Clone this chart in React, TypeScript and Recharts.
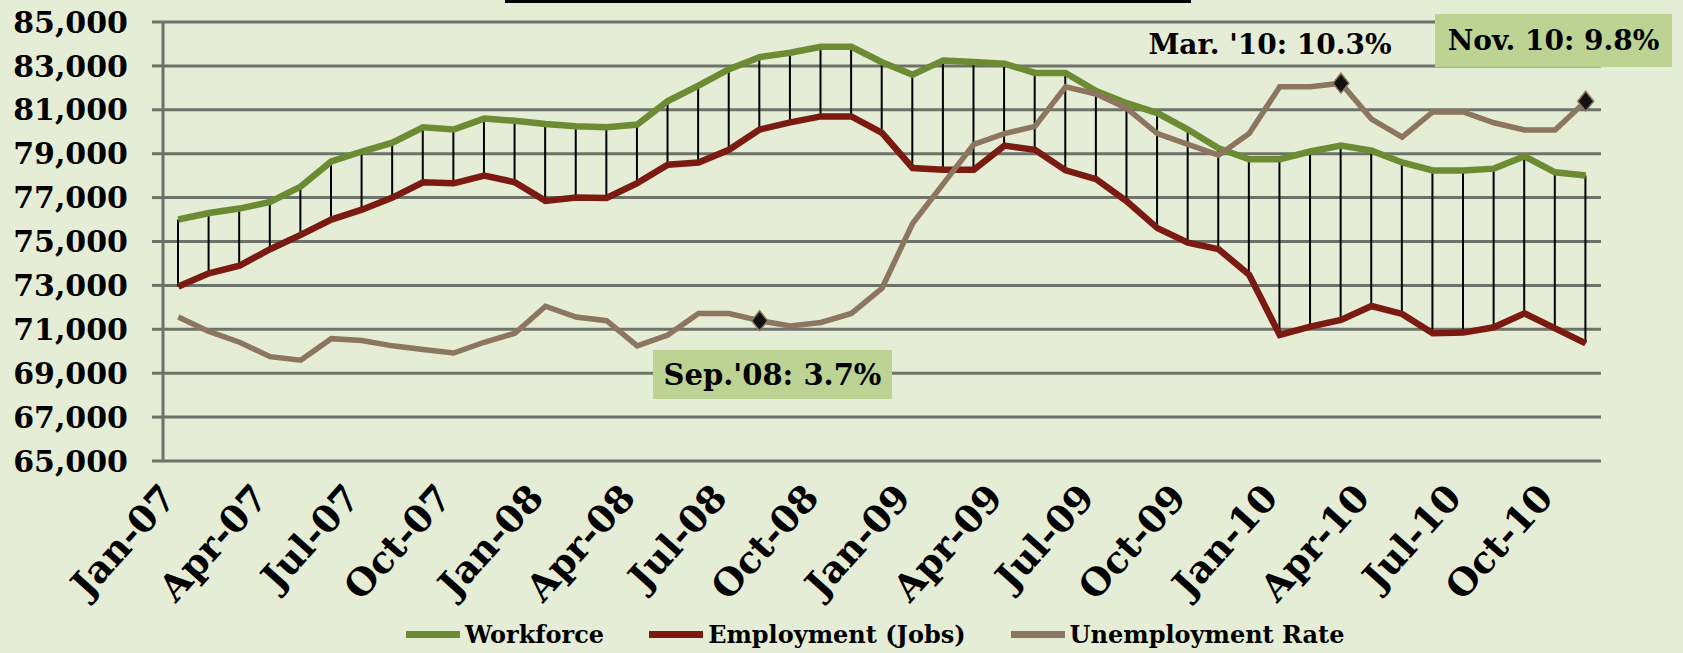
import React from 'react'
import {
  ComposedChart,
  Line,
  Bar,
  XAxis,
  YAxis,
  CartesianGrid,
  Legend,
} from 'recharts'

// Jan-07 .. Nov-10, monthly
const months = [
  'Jan-07', 'Feb-07', 'Mar-07', 'Apr-07', 'May-07', 'Jun-07', 'Jul-07', 'Aug-07', 'Sep-07', 'Oct-07', 'Nov-07', 'Dec-07',
  'Jan-08', 'Feb-08', 'Mar-08', 'Apr-08', 'May-08', 'Jun-08', 'Jul-08', 'Aug-08', 'Sep-08', 'Oct-08', 'Nov-08', 'Dec-08',
  'Jan-09', 'Feb-09', 'Mar-09', 'Apr-09', 'May-09', 'Jun-09', 'Jul-09', 'Aug-09', 'Sep-09', 'Oct-09', 'Nov-09', 'Dec-09',
  'Jan-10', 'Feb-10', 'Mar-10', 'Apr-10', 'May-10', 'Jun-10', 'Jul-10', 'Aug-10', 'Sep-10', 'Oct-10', 'Nov-10',
]

const workforce = [
  76000, 76300, 76500, 76800, 77500, 78650, 79100, 79500, 80200, 80100, 80600, 80500,
  80350, 80250, 80200, 80330, 81400, 82100, 82850, 83400, 83600, 83870, 83870, 83170,
  82600, 83250, 83180, 83100, 82680, 82680, 81850, 81300, 80850, 80100, 79250, 78750,
  78750, 79100, 79370, 79140, 78600, 78240, 78240, 78320, 78880, 78150, 78010,
]

const employment = [
  72950, 73550, 73900, 74650, 75300, 76000, 76450, 77000, 77700, 77650, 78000, 77700,
  76850, 77000, 76980, 77660, 78500, 78600, 79180, 80100, 80430, 80700, 80700, 79950,
  78350, 78270, 78270, 79370, 79180, 78240, 77840, 76830, 75610, 74950, 74650, 73480,
  70740, 71120, 71430, 72060, 71700, 70820, 70850, 71090, 71730, 71040, 70360,
]

// percent, drawn against a hidden secondary scale
const unemploymentRate = [
  3.8, 3.4, 3.1, 2.7, 2.6, 3.2, 3.15, 3.0, 2.9, 2.8, 3.1, 3.35,
  4.1, 3.8, 3.7, 3.0, 3.3, 3.9, 3.9, 3.7, 3.55, 3.65, 3.9, 4.6,
  6.4, 7.5, 8.6, 8.9, 9.1, 10.2, 10.0, 9.6, 8.9, 8.6, 8.3, 8.9,
  10.2, 10.2, 10.3, 9.3, 8.8, 9.5, 9.5, 9.2, 9.0, 9.0, 9.8,
]

const markedMonths = ['Aug-08', 'Mar-10', 'Nov-10']

const yTicks = [65000, 67000, 69000, 71000, 73000, 75000, 77000, 79000, 81000, 83000, 85000]

const data = months.map((m, i) => ({
  month: m,
  workforce: workforce[i],
  employment: employment[i],
  rate: unemploymentRate[i],
  span: [employment[i], workforce[i]],
}))

const GREEN = '#6b8c33'
const RED = '#7a1a10'
const TAN = '#8c7660'
const GRID = '#6e7369'
const BG = '#e5edd7'
const BOX = '#bdd394'
const FONT = '"DejaVu Serif", serif'

const legendItems = [
  { name: 'Workforce', color: GREEN },
  { name: 'Employment (Jobs)', color: RED },
  { name: 'Unemployment Rate', color: TAN },
]

const MonthTick = (props: any) => {
  const { x, y, payload } = props
  const ty = y + 38
  return (
    <text
      x={x}
      y={ty}
      transform={`rotate(-48 ${x} ${ty})`}
      textAnchor="end"
      fontFamily={FONT}
      fontWeight="bold"
      fontSize={37}
      fill="#000"
    >
      {payload.value}
    </text>
  )
}

const RateDot = (props: any) => {
  const { cx, cy, index, payload } = props
  if (!markedMonths.includes(payload.month)) return <g key={`d${index}`} />
  const r = 10
  return (
    <path
      key={`d${index}`}
      d={`M${cx},${cy - r} L${cx + r * 0.8},${cy} L${cx},${cy + r} L${cx - r * 0.8},${cy} Z`}
      fill="#111"
      stroke={TAN}
      strokeWidth={1.5}
    />
  )
}

const renderLegend = () => (
  <div style={{ display: 'flex', alignItems: 'center', marginLeft: 406, gap: 45 }}>
    {legendItems.map((it) => (
      <div key={it.name} style={{ display: 'flex', alignItems: 'center' }}>
        <div style={{ width: 54, height: 7, background: it.color, marginRight: 5 }} />
        <span style={{ fontFamily: FONT, fontWeight: 'bold', fontSize: 24, color: '#000' }}>{it.name}</span>
      </div>
    ))}
  </div>
)

const boxText: React.CSSProperties = {
  position: 'absolute',
  fontFamily: FONT,
  fontWeight: 'bold',
  color: '#000',
  display: 'flex',
  alignItems: 'center',
  justifyContent: 'center',
  whiteSpace: 'nowrap',
}

export default function App() {
  return (
    <div style={{ position: 'relative', width: 1683, height: 653, background: BG, overflow: 'hidden' }}>
      <style>{'body{margin:0}'}</style>
      <ComposedChart
        width={1683}
        height={653}
        data={data}
        margin={{ top: 22, right: 82, bottom: 0, left: 0 }}
      >
        <CartesianGrid yAxisId="left" vertical={false} stroke={GRID} strokeWidth={3} />
        <XAxis
          dataKey="month"
          interval={2}
          tickLine={false}
          axisLine={false}
          tickSize={0}
          tickMargin={0}
          height={192}
          tick={<MonthTick />}
        />
        <YAxis
          yAxisId="left"
          domain={[65000, 85000]}
          ticks={yTicks}
          width={163}
          tickSize={11}
          tickMargin={24}
          axisLine={{ stroke: GRID, strokeWidth: 3 }}
          tickLine={{ stroke: GRID, strokeWidth: 3 }}
          tickFormatter={(v: number) => v.toLocaleString('en-US')}
          tick={{ fontFamily: FONT, fontWeight: 'bold', fontSize: 30, fill: '#000' }}
        />
        <YAxis
          yAxisId="rate"
          orientation="right"
          domain={[-0.2, 12]}
          width={0}
          tick={false}
          tickLine={false}
          axisLine={{ stroke: GRID, strokeWidth: 3 }}
        />
        <Bar yAxisId="left" dataKey="span" barSize={2} fill="#000" isAnimationActive={false} legendType="none" />
        <Line yAxisId="left" dataKey="workforce" name="Workforce" stroke={GREEN} strokeWidth={6.5} dot={false} isAnimationActive={false} />
        <Line yAxisId="left" dataKey="employment" name="Employment (Jobs)" stroke={RED} strokeWidth={6.5} dot={false} isAnimationActive={false} />
        <Line yAxisId="rate" dataKey="rate" name="Unemployment Rate" stroke={TAN} strokeWidth={5.5} dot={RateDot} isAnimationActive={false} />
        <Legend
          verticalAlign="middle"
          layout="horizontal"
          content={renderLegend}
          wrapperStyle={{ top: 620, left: 0, width: 1683 }}
        />
      </ComposedChart>

      <div style={{ position: 'absolute', left: 505, top: 0, width: 686, height: 3, background: '#000' }} />

      <div style={{ ...boxText, left: 653, top: 350, width: 239, height: 49, background: BOX, fontSize: 29 }}>
        Sep.'08: 3.7%
      </div>
      <div style={{ ...boxText, left: 1146, top: 24, width: 248, height: 40, fontSize: 28 }}>
        Mar. '10: 10.3%
      </div>
      <div style={{ ...boxText, left: 1435, top: 14, width: 237, height: 53, background: BOX, fontSize: 28 }}>
        Nov. 10: 9.8%
      </div>
    </div>
  )
}
